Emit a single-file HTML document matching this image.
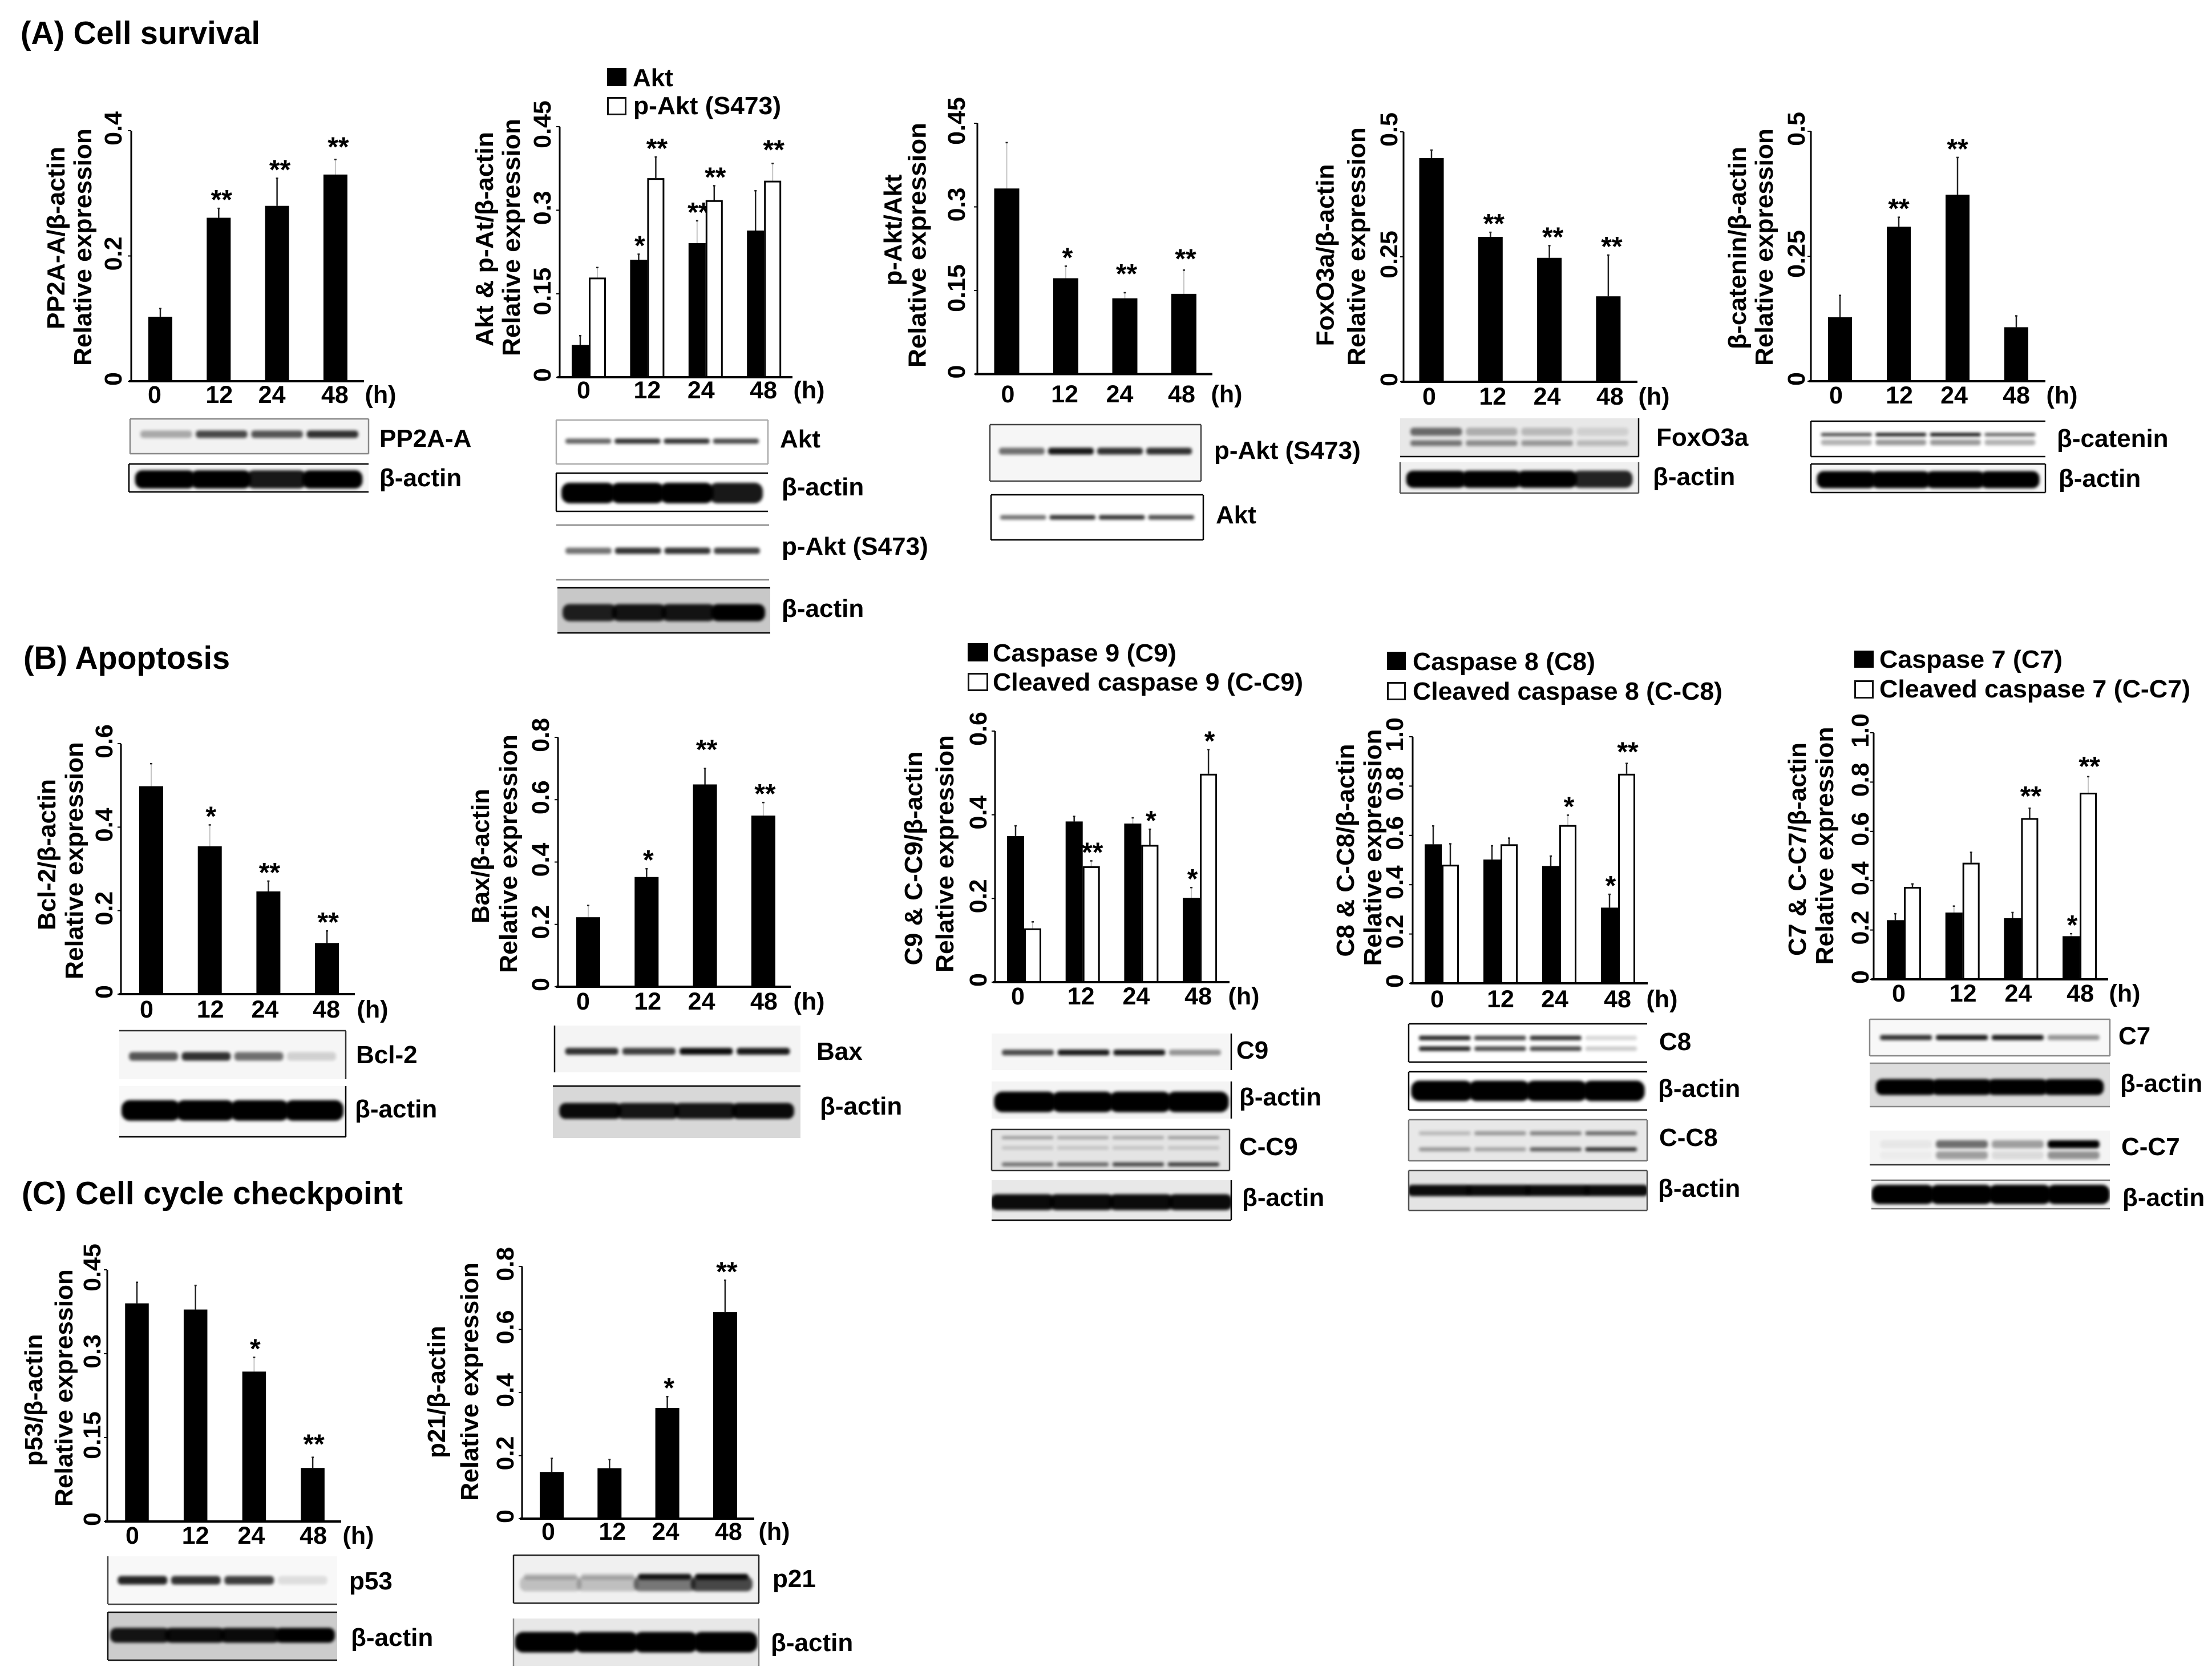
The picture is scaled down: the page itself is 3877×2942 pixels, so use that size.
<!DOCTYPE html>
<html lang="en">
<head>
<meta charset="utf-8">
<title>Cell survival, apoptosis and cell cycle checkpoint expression panels</title>
<style>
html,body{margin:0;padding:0;background:#fff;}
svg{display:block;}
text{font-family:"Liberation Sans",sans-serif;font-weight:bold;fill:#000;}
</style>
</head>
<body>
<svg id="figure" xmlns="http://www.w3.org/2000/svg" width="3877" height="2942" viewBox="0 0 3877 2942">
<defs>
<filter id="blur-band" x="-20%" y="-150%" width="140%" height="400%"><feGaussianBlur stdDeviation="2.6"></feGaussianBlur></filter>
</defs>
<rect x="0" y="0" width="3877" height="2942" fill="#fff"></rect>
<text x="36" y="77" font-size="57" textLength="420" lengthAdjust="spacingAndGlyphs">(A) Cell survival</text>
<text x="41" y="1172" font-size="57" textLength="362" lengthAdjust="spacingAndGlyphs">(B) Apoptosis</text>
<text x="38" y="2110" font-size="57" textLength="668" lengthAdjust="spacingAndGlyphs">(C) Cell cycle checkpoint</text>
<g id="charts"></g>
<g id="blots"></g>
</svg>
<script>
// ---- shared categories ----
const timeLabels = ['0', '12', '24', '48'];

// ---- (A) PP2A-A ----
const pp2aTicks = ['0', '0.2', '0.4'];
const pp2aValues = [0.103, 0.261, 0.28, 0.33];
const pp2aErrors = [0.013, 0.015, 0.044, 0.024];
const pp2aStars = ['', '**', '**', '**'];

// ---- (A) Akt & p-Akt ----
const aktTicks = ['0', '0.15', '0.3', '0.45'];
const aktValues = [0.058, 0.211, 0.241, 0.2635];
const aktErrors = [0.0166, 0.01, 0.04, 0.0715];
const aktStars = ['', '*', '**', ''];
const pAktValues = [0.179, 0.3576, 0.318, 0.353];
const pAktErrors = [0.018, 0.038, 0.026, 0.031];
const pAktStars = ['', '**', '**', '**'];

// ---- (A) p-Akt/Akt ----
const ratioTicks = ['0', '0.15', '0.3', '0.45'];
const ratioValues = [0.333, 0.172, 0.136, 0.144];
const ratioErrors = [0.0823, 0.0216, 0.01, 0.0425];
const ratioStars = ['', '*', '**', '**'];

// ---- (A) FoxO3a ----
const foxoTicks = ['0', '0.25', '0.5'];
const foxoValues = [0.4475, 0.29, 0.248, 0.171];
const foxoErrors = [0.016, 0.009, 0.0245, 0.0825];
const foxoStars = ['', '**', '**', '**'];

// ---- (A) beta-catenin ----
const cateninTicks = ['0', '0.25', '0.5'];
const cateninValues = [0.128, 0.309, 0.373, 0.108];
const cateninErrors = [0.0437, 0.019, 0.0746, 0.0227];
const cateninStars = ['', '**', '**', ''];

// ---- (B) Bcl-2 ----
const bcl2Ticks = ['0', '0.2', '0.4', '0.6'];
const bcl2Values = [0.498, 0.354, 0.246, 0.1225];
const bcl2Errors = [0.054, 0.0513, 0.0248, 0.029];
const bcl2Stars = ['', '*', '**', '**'];

// ---- (B) Bax ----
const baxTicks = ['0', '0.2', '0.4', '0.6', '0.8'];
const baxValues = [0.223, 0.352, 0.649, 0.549];
const baxErrors = [0.0377, 0.0266, 0.051, 0.042];
const baxStars = ['', '*', '**', '**'];

// ---- (B) Caspase 9 ----
const c9Ticks = ['0', '0.2', '0.4', '0.6'];
const c9Values = [0.349, 0.384, 0.379, 0.2015];
const c9Errors = [0.0246, 0.012, 0.0137, 0.0246];
const c9Stars = ['', '', '', '*'];
const cc9Values = [0.1286, 0.277, 0.328, 0.498];
const cc9Errors = [0.0155, 0.0128, 0.0374, 0.058];
const cc9Stars = ['', '**', '*', '*'];

// ---- (B) Caspase 8 ----
const c8Ticks = ['0', '0.2', '0.4', '0.6', '0.8', '1.0'];
const c8Values = [0.564, 0.502, 0.476, 0.307];
const c8Errors = [0.0744, 0.0558, 0.04, 0.054];
const c8Stars = ['', '', '', '*'];
const cc8Values = [0.481, 0.564, 0.642, 0.85];
const cc8Errors = [0.085, 0.025, 0.04, 0.042];
const cc8Stars = ['', '', '*', '**'];

// ---- (B) Caspase 7 ----
const c7Ticks = ['0', '0.2', '0.4', '0.6', '0.8', '1.0'];
const c7Values = [0.24, 0.271, 0.248, 0.175];
const c7Errors = [0.026, 0.026, 0.023, 0.01];
const c7Stars = ['', '', '', '*'];
const cc7Values = [0.375, 0.473, 0.654, 0.757];
const cc7Errors = [0.012, 0.042, 0.04, 0.065];
const cc7Stars = ['', '', '**', '**'];

// ---- (C) p53 ----
const p53Ticks = ['0', '0.15', '0.3', '0.45'];
const p53Values = [0.39, 0.379, 0.268, 0.0957];
const p53Errors = [0.0377, 0.043, 0.0255, 0.019];
const p53Stars = ['', '', '*', '**'];

// ---- (C) p21 ----
const p21Ticks = ['0', '0.2', '0.4', '0.6', '0.8'];
const p21Values = [0.148, 0.16, 0.351, 0.655];
const p21Errors = [0.0432, 0.0278, 0.036, 0.101];
const p21Stars = ['', '', '*', '**'];

const SVG_NS = 'http://www.w3.org/2000/svg';

function make(parent, tag, attrs, content) {
  const el = document.createElementNS(SVG_NS, tag);
  for (const k in attrs) el.setAttribute(k, attrs[k]);
  if (content !== undefined) el.textContent = content;
  parent.appendChild(el);
  return el;
}

function drawChart(c) {
  const root = document.getElementById('charts');
  const g = make(root, 'g', {});
  
  

  const yMax = parseFloat(c.ticks[c.ticks.length - 1]);
  const yScale = function (v) { return c.base - (v / yMax) * (c.base - c.top); };
  const xScale = function (i) { return c.c0 + i * c.step; };
  const n = c.series.length;

  // bars, error bars, significance stars
  c.series.forEach(function (s, si) {
    s.values.forEach(function (v, i) {
      const cx = xScale(i) + (si - (n - 1) / 2) * c.barW;
      const top = yScale(v);
      const errTop = yScale(v + s.errors[i]);
      const faintList = (c.faintErr && c.faintErr[si]) || [];
      const faint = faintList.indexOf(i) >= 0;

      const err = make(g, 'line', {x1: cx, x2: cx, y1: top, y2: errTop, stroke: faint ? '#c4c4c4' : '#222', 'stroke-width': faint ? 2 : 2.5});
      
      

      const cap = make(g, 'line', {x1: cx - 2, x2: cx + 2, y1: errTop, y2: errTop, stroke: '#222', 'stroke-width': 2.5});
      
      

      const hollow = s.key.indexOf('cleaved') === 0 || s.key === 'p-akt';
      const inset = hollow ? 1.5 : 0;
      const bar = make(g, 'rect', {
        x: cx - c.barW / 2 + inset, y: top + inset,
        width: c.barW - 2 * inset, height: Math.max(0, c.base - top - inset),
        fill: hollow ? '#fff' : '#000',
        stroke: hollow ? '#000' : 'none', 'stroke-width': hollow ? 3 : 0
      });
      
      

      if (s.stars[i]) {
        const gaps = (c.starGaps && c.starGaps[si]) || [];
        const gap = gaps[i] || 24;
        const star = make(g, 'text', {x: cx + (c.starDx === undefined ? 4 : c.starDx), y: errTop - gap + 25, 'font-size': 48, 'text-anchor': 'middle'}, s.stars[i]);
        
        
      }
    });
  });

  // axes
  const yAxis = make(g, 'line', {x1: c.x, x2: c.x, y1: c.top, y2: c.base, stroke: '#000', 'stroke-width': 3});
  
  
  const xAxis = make(g, 'line', {x1: c.x - 4, x2: c.right, y1: c.base, y2: c.base, stroke: '#000', 'stroke-width': 4});
  
  

  // y ticks + labels
  c.ticks.forEach(function (label) {
    const ty = yScale(parseFloat(label));
    const mark = make(g, 'line', {x1: c.x - 6, x2: c.x, y1: ty, y2: ty, stroke: '#000', 'stroke-width': 2});
    
    
    const cy = ty - 4;
    const bx = c.tickX + 15;
    const t = make(g, 'text', {x: bx, y: cy, 'font-size': 43, 'text-anchor': 'middle', transform: 'rotate(-90 ' + bx + ' ' + cy + ')'}, label);
    
    
  });

  // x labels
  timeLabels.forEach(function (label, i) {
    const t = make(g, 'text', {x: xScale(i) + c.labelDx[i], y: c.labelY + 15, 'font-size': 43, 'text-anchor': 'middle'}, label);
    
    
  });
  const unit = make(g, 'text', {x: c.unitX, y: c.labelY + 15, 'font-size': 43, 'text-anchor': 'middle'}, '(h)');
  
  

  // rotated titles
  c.titles.forEach(function (tl, i) {
    const bx = tl[1] + 15;
    const t = make(g, 'text', {
      x: bx, y: tl[2], 'font-size': 44, 'text-anchor': 'middle',
      textLength: tl[3], lengthAdjust: 'spacingAndGlyphs',
      transform: 'rotate(-90 ' + bx + ' ' + tl[2] + ')'
    }, tl[0]);
    
    
  });

  // legend
  (c.legend || []).forEach(function (e, i) {
    const sw = make(g, 'rect', {
      x: e.x + (i ? 1.5 : 0), y: e.y0 + (i ? 1.5 : 0),
      width: e.w - (i ? 3 : 0), height: e.h - (i ? 3 : 0),
      fill: i ? '#fff' : '#000', stroke: i ? '#111' : 'none', 'stroke-width': i ? 3 : 0
    });
    
    
    const attrs = {x: e.tx, y: e.base, 'font-size': 44};
    if (e.len) { attrs.textLength = e.len; attrs.lengthAdjust = 'spacingAndGlyphs'; }
    const t = make(g, 'text', attrs, e.text);
    
    
  });
}

function blot(name, label, box, bg, edges, edgeColor, labelPos, bands, margin) {
  const root = document.getElementById('blots');
  const g = make(root, 'g', {});
  
  
  const x0 = box[0], y0 = box[1], x1 = box[2], y1 = box[3];
  const w = x1 - x0, h = y1 - y0;
  const clip = make(g, 'svg', {x: x0, y: y0, width: w, height: h});
  make(clip, 'rect', {x: 0, y: 0, width: w, height: h, fill: bg});
  const mx = (margin === undefined ? 0.035 : margin) * w;
  const laneW = (w - 2 * mx) / 4;
  bands.forEach(function (b) {
    b[2].forEach(function (op, i) {
      const gap = b[1] > 18 ? -4 : laneW * 0.035;
      const r = make(clip, 'rect', {
        x: mx + i * laneW + gap, y: b[0] * h - b[1] / 2,
        width: laneW - 2 * gap, height: b[1], rx: b[1] * 0.4,
        fill: '#000', opacity: op, filter: 'url(#blur-band)'
      });
      
      
    });
  });
  const sides = {t: [x0, y0, x1, y0], b: [x0, y1, x1, y1], l: [x0, y0, x0, y1], r: [x1, y0, x1, y1]};
  edges.split('').forEach(function (s) {
    const p = sides[s];
    make(g, 'line', {x1: p[0], y1: p[1], x2: p[2], y2: p[3], stroke: edgeColor, 'stroke-width': 2.5});
  });
  const t = make(g, 'text', {x: labelPos[0], y: labelPos[1] + 15, 'font-size': 44}, label);
  
  
}

const twoSeriesGap = 2;

drawChart({name: 'pp2a', x: 230, top: 229, base: 668, right: 638, ticks: pp2aTicks,
  c0: 281, step: 102.3, barW: 42, tickX: 198, labelY: 691, unitX: 667, labelDx: [-10, 1, -9, -1], starDx: 5,
  starGaps: [[0, 0, 0, 31]], faintErr: [[3]],
  series: [{key: 'pp2a', values: pp2aValues, errors: pp2aErrors, stars: pp2aStars}],
  titles: [['PP2A-A/β-actin', 98, 417, 320], ['Relative expression', 145, 433, 416]]});

drawChart({name: 'akt', x: 981, top: 222, base: 661, right: 1389, ticks: aktTicks,
  c0: 1032, step: 102.4, barW: 30, tickX: 950, labelY: 683, unitX: 1418, labelDx: [-9, 0, -8, -1], starDx: twoSeriesGap,
  starGaps: [[], [0, 0, 0, 33]], faintErr: [[2], [0, 3]],
  series: [{key: 'akt', values: aktValues, errors: aktErrors, stars: aktStars},
           {key: 'p-akt', values: pAktValues, errors: pAktErrors, stars: pAktStars}],
  titles: [['Akt & p-At/β-actin', 849, 419, 376], ['Relative expression', 896, 416, 416]],
  legend: [{x: 1064, y0: 119, w: 34, h: 32, tx: 1109, base: 151, text: 'Akt'},
           {x: 1064, y0: 170, w: 34, h: 32, tx: 1110, base: 200, text: 'p-Akt (S473)', len: 259}]});

drawChart({name: 'p-akt-ratio', x: 1713, top: 216, base: 655.5, right: 2125, ticks: ratioTicks,
  c0: 1764.5, step: 103.5, barW: 44, tickX: 1676, labelY: 690, unitX: 2150, labelDx: [2, -2, -9, -4], starDx: 3,
  starGaps: [[0, 0, 42, 29]], faintErr: [[0, 1, 2, 3]],
  series: [{key: 'ratio', values: ratioValues, errors: ratioErrors, stars: ratioStars}],
  titles: [['p-Akt/Akt', 1565, 403, 195], ['Relative  expression', 1607.5, 429.5, 429]]});

drawChart({name: 'foxo3a', x: 2460, top: 231, base: 669, right: 2870, ticks: foxoTicks,
  c0: 2509, step: 103.3, barW: 43, tickX: 2434, labelY: 694, unitX: 2899, labelDx: [-4, 4, -4, 3], starDx: 6,
  series: [{key: 'foxo3a', values: foxoValues, errors: foxoErrors, stars: foxoStars}],
  titles: [['FoxO3a/β-actin', 2322.6, 447, 319], ['Relative expression', 2377.6, 432, 418]]});

drawChart({name: 'beta-catenin', x: 3174, top: 230, base: 668, right: 3585, ticks: cateninTicks,
  c0: 3225, step: 103, barW: 42, tickX: 3148, labelY: 692, unitX: 3614, labelDx: [-7, 1, -6, 0], starDx: 0,
  series: [{key: 'catenin', values: cateninValues, errors: cateninErrors, stars: cateninStars}],
  titles: [['β-catenin/β-actin', 3045, 434.5, 355], ['Relative expression', 3092, 433, 416]]});

drawChart({name: 'bcl-2', x: 212, top: 1303, base: 1742, right: 622, ticks: bcl2Ticks,
  c0: 265, step: 102.7, barW: 42, tickX: 182, labelY: 1768, unitX: 653, labelDx: [-8, 1, -6, -1], starDx: 2,
  faintErr: [[0, 1]],
  series: [{key: 'bcl2', values: bcl2Values, errors: bcl2Errors, stars: bcl2Stars}],
  titles: [['Bcl-2/β-actin', 82, 1497.5, 265], ['Relative expression', 130, 1508, 416]]});

drawChart({name: 'bax', x: 978, top: 1292, base: 1729, right: 1386, ticks: baxTicks,
  c0: 1031, step: 102.3, barW: 42, tickX: 947, labelY: 1754, unitX: 1418, labelDx: [-9, 2, -6, 1], starDx: 3,
  starGaps: [[0, 0, 42, 0]], faintErr: [[0, 3]],
  series: [{key: 'bax', values: baxValues, errors: baxErrors, stars: baxStars}],
  titles: [['Bax/β-actin', 842, 1500, 236], ['Relative expression', 891, 1496, 418]]});

drawChart({name: 'caspase-9', x: 1744, top: 1281, base: 1721, right: 2155, ticks: c9Ticks,
  c0: 1795, step: 102.7, barW: 30, tickX: 1714, labelY: 1745, unitX: 2180, labelDx: [-11, -3, -9, -3], starDx: 2,
  faintErr: [[2, 3], [0, 1]],
  series: [{key: 'c9', values: c9Values, errors: c9Errors, stars: c9Stars},
           {key: 'cleaved-c9', values: cc9Values, errors: cc9Errors, stars: cc9Stars}],
  titles: [['C9 & C-C9/β-actin', 1601, 1504, 375], ['Relative expression', 1656, 1496, 416]],
  legend: [{x: 1696, y0: 1127, w: 36, h: 32, tx: 1740, base: 1159, text: 'Caspase 9 (C9)', len: 322},
           {x: 1696, y0: 1179, w: 36, h: 32, tx: 1740, base: 1210, text: 'Cleaved caspase 9 (C-C9)', len: 544}]});

drawChart({name: 'caspase-8', x: 2476, top: 1291, base: 1723, right: 2888, ticks: c8Ticks,
  c0: 2527, step: 103, barW: 30, tickX: 2444, labelY: 1750, unitX: 2913, labelDx: [-8, 0, -8, -1], starDx: 2,
  starGaps: [[], [0, 0, 0, 29]], faintErr: [[], [2]],
  series: [{key: 'c8', values: c8Values, errors: c8Errors, stars: c8Stars},
           {key: 'cleaved-c8', values: cc8Values, errors: cc8Errors, stars: cc8Stars}],
  titles: [['C8 & C-C8/β-actin', 2358, 1490, 373], ['Relative expression', 2406, 1485, 415]],
  legend: [{x: 2431, y0: 1142, w: 33, h: 32, tx: 2476, base: 1174, text: 'Caspase 8 (C8)', len: 320},
           {x: 2431, y0: 1195, w: 33, h: 32, tx: 2476, base: 1226, text: 'Cleaved caspase 8 (C-C8)', len: 543}]});

drawChart({name: 'caspase-7', x: 3284, top: 1284, base: 1716, right: 3695, ticks: c7Ticks,
  c0: 3337, step: 102.7, barW: 30, tickX: 3260, labelY: 1740, unitX: 3724, labelDx: [-9, 1, -5, 1], starDx: 2,
  starGaps: [[], [0, 0, 30, 27]], faintErr: [[1, 3], [3]],
  series: [{key: 'c7', values: c7Values, errors: c7Errors, stars: c7Stars},
           {key: 'cleaved-c7', values: cc7Values, errors: cc7Errors, stars: cc7Stars}],
  titles: [['C7 & C-C7/β-actin', 3150, 1488, 374], ['Relative expression', 3198, 1482, 417]],
  legend: [{x: 3250, y0: 1140, w: 34, h: 30, tx: 3294, base: 1170, text: 'Caspase 7 (C7)', len: 321},
           {x: 3250, y0: 1192, w: 34, h: 32, tx: 3294, base: 1222, text: 'Cleaved caspase 7 (C-C7)', len: 545}]});

drawChart({name: 'p53', x: 188, top: 2225, base: 2666, right: 598, ticks: p53Ticks,
  c0: 240, step: 102.7, barW: 41.5, tickX: 161, labelY: 2690, unitX: 628, labelDx: [-8, 0, -5, 1], starDx: 2,
  starGaps: [[0, 0, 0, 32]], faintErr: [[2]],
  series: [{key: 'p53', values: p53Values, errors: p53Errors, stars: p53Stars}],
  titles: [['p53/β-actin', 59, 2453, 231], ['Relative expression', 112, 2432, 416]]});

drawChart({name: 'p21', x: 915, top: 2219, base: 2661, right: 1322, ticks: p21Ticks,
  c0: 967, step: 101.3, barW: 42, tickX: 885, labelY: 2683, unitX: 1357, labelDx: [-6, 5, -3, 6], starDx: 3,
  series: [{key: 'p21', values: p21Values, errors: p21Errors, stars: p21Stars}],
  titles: [['p21/β-actin', 765, 2439, 232], ['Relative expression', 823, 2421, 418]]});

// ---- western blots ----
blot('pp2a-a', 'PP2A-A', [228, 734, 646, 795], '#f2f2f2', 'tlbr', '#888', [665, 768], [[.44, 13, [.3, .7, .65, .8]]]);
blot('pp2a-actin', 'β-actin', [226, 813, 646, 862], '#f6f6f6', 'tlb', '#000', [665, 837], [[.55, 32, [1, 1, .9, 1]]]);
blot('akt', 'Akt', [975, 736, 1346, 813], '#fff', 'tlbr', '#aaa', [1367, 769], [[.48, 9, [.6, .8, .8, .7]]]);
blot('akt-actin', 'β-actin', [975, 829, 1346, 896], '#fff', 'tlb', '#000', [1370, 853], [[.52, 36, [1, 1, 1, .9]]]);
blot('p-akt', 'p-Akt (S473)', [975, 920, 1348, 1016], '#fff', 'tb', '#888', [1370, 957], [[.47, 11, [.55, .8, .8, .75]]]);
blot('p-akt-actin', 'β-actin', [977, 1030, 1350, 1109], '#c8c8c8', 'tb', '#000', [1370, 1066], [[.55, 30, [.85, .9, .9, 1]]]);
blot('ratio-p-akt', 'p-Akt (S473)', [1735, 744, 2105, 843], '#f6f6f6', 'tlbr', '#444', [2128, 789], [[.47, 12, [.55, .9, .8, .8]]]);
blot('ratio-akt', 'Akt', [1737, 867, 2109, 946], '#fff', 'tlbr', '#000', [2131, 902], [[.5, 8, [.55, .8, .8, .7]]]);
blot('foxo3a', 'FoxO3a', [2454, 733, 2872, 800], '#e8e8e8', 'rb', '#000', [2903, 766], [[.35, 14, [.55, .25, .2, .1]], [.65, 10, [.5, .4, .35, .2]]]);
blot('foxo3a-actin', 'β-actin', [2454, 810, 2872, 864], '#f0f0f0', 'lbr', '#555', [2897, 835], [[.55, 30, [1, 1, 1, .85]]]);
blot('beta-catenin', 'β-catenin', [3174, 738, 3585, 800], '#fff', 'ltb', '#000', [3605, 768], [[.38, 6, [.7, .9, .95, .6]], [.6, 10, [.3, .4, .4, .3]]]);
blot('catenin-actin', 'β-actin', [3174, 813, 3585, 863], '#f8f8f8', 'tlbr', '#000', [3608, 838], [[.55, 30, [1, 1, 1, 1]]]);
blot('bcl-2', 'Bcl-2', [209, 1806, 606, 1891], '#f6f6f6', 'tr', '#333', [624, 1848], [[.53, 15, [.65, .8, .55, .15]]]);
blot('bcl-2-actin', 'β-actin', [209, 1903, 606, 1992], '#f8f8f8', 'rb', '#000', [622, 1943], [[.48, 36, [1, 1, 1, 1]]], .02);
blot('bax', 'Bax', [972, 1797, 1403, 1879], '#f4f4f4', 'l', '#000', [1431, 1842], [[.55, 12, [.8, .75, .95, .9]]]);
blot('bax-actin', 'β-actin', [969, 1903, 1403, 1994], '#d8d8d8', 't', '#000', [1437, 1938], [[.48, 28, [.95, .9, .9, .95]]]);
blot('c9', 'C9', [1738, 1811, 2158, 1875], '#f6f6f6', 'r', '#000', [2167, 1840], [[.52, 10, [.7, .9, .9, .4]]]);
blot('c9-actin', 'β-actin', [1738, 1895, 2158, 1960], '#f4f4f4', 'r', '#000', [2172, 1922], [[.55, 36, [1, 1, 1, 1]]], .02);
blot('c-c9', 'C-C9', [1738, 1979, 2155, 2051], '#e4e4e4', 'tlbr', '#333', [2172, 2009], [[.2, 5, [.35, .3, .3, .35]], [.45, 6, [.15, .15, .15, .15]], [.85, 7, [.5, .55, .7, .75]]]);
blot('c-c9-actin', 'β-actin', [1738, 2068, 2158, 2138], '#e8e8e8', 'rb', '#000', [2177, 2098], [[.55, 28, [.95, .95, .95, .95]]], .005);
blot('c8', 'C8', [2469, 1794, 2887, 1861], '#fff', 'tlb', '#000', [2908, 1825], [[.37, 8, [.85, .7, .8, .15]], [.65, 8, [.85, .7, .7, .2]]]);
blot('c8-actin', 'β-actin', [2469, 1878, 2887, 1945], '#fff', 'tlb', '#000', [2906, 1907], [[.5, 36, [1, 1, 1, 1]]], .02);
blot('c-c8', 'C-C8', [2469, 1962, 2887, 2034], '#e8e8e8', 'tlbr', '#777', [2908, 1993], [[.33, 7, [.2, .35, .45, .55]], [.72, 7, [.35, .3, .6, .8]]]);
blot('c-c8-actin', 'β-actin', [2469, 2051, 2887, 2121], '#e4e4e4', 'tlbr', '#555', [2906, 2082], [[.5, 20, [.95, .95, .95, .95]]], .005);
blot('c7', 'C7', [3277, 1786, 3698, 1850], '#f8f8f8', 'tlbr', '#888', [3713, 1815], [[.5, 9, [.8, .9, .9, .4]]]);
blot('c7-actin', 'β-actin', [3277, 1863, 3698, 1939], '#dddddd', 'tb', '#888', [3716, 1898], [[.55, 28, [1, 1, 1, 1]]]);
blot('c-c7', 'C-C7', [3277, 1981, 3698, 2041], '#f4f4f4', 'b', '#333', [3718, 2009], [[.4, 14, [.05, .55, .35, 1]], [.72, 14, [.03, .35, .1, .4]]]);
blot('c-c7-actin', 'β-actin', [3280, 2068, 3698, 2118], '#f4f4f4', 'tb', '#777', [3720, 2098], [[.5, 34, [1, 1, 1, 1]]], .01);
blot('p53', 'p53', [189, 2727, 591, 2811], '#f8f8f8', 'lb', '#444', [612, 2770], [[.5, 15, [.85, .8, .75, .1]]]);
blot('p53-actin', 'β-actin', [189, 2825, 591, 2909], '#cccccc', 'tlb', '#111', [615, 2869], [[.48, 26, [.9, .95, .95, 1]]], .02);
blot('p21', 'p21', [900, 2725, 1330, 2809], '#f0f0f0', 'tlbr', '#222', [1354, 2766], [[.6, 26, [.2, .2, .5, .7]], [.45, 10, [.2, .2, .9, .95]]]);
blot('p21-actin', 'β-actin', [900, 2836, 1330, 2919], '#e8e8e8', 'lr', '#888', [1351, 2878], [[.5, 36, [1, 1, 1, 1]]], .015);
</script>
</body>
</html>
